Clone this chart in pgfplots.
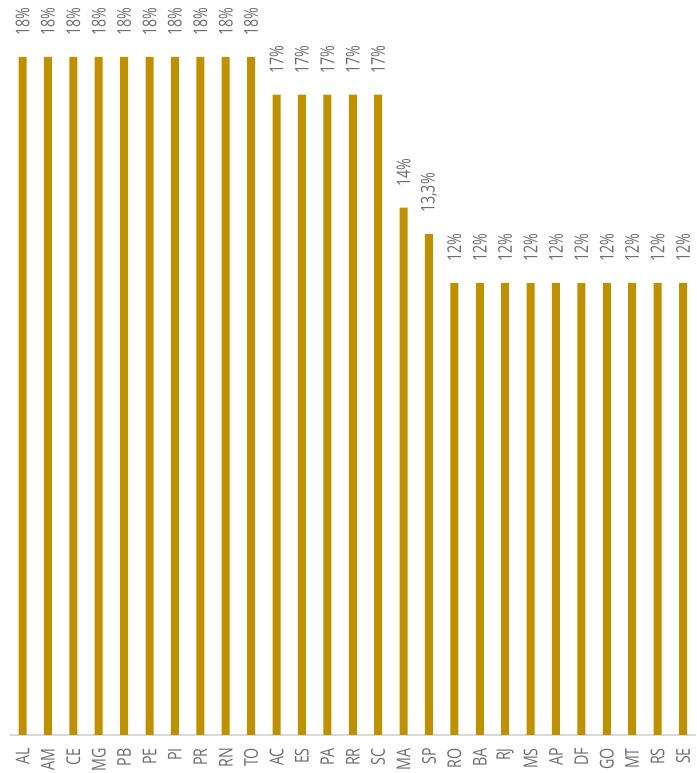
\documentclass[border=0pt]{standalone}
\usepackage{fontspec}
\setmainfont{Open Sans}
\usepackage{pgfplots}
\usepackage{pgfplotstable}
\pgfplotsset{compat=1.18}
\definecolor{barcol}{RGB}{191,144,0}
\definecolor{txtcol}{RGB}{108,108,108}
\newcommand{\sq}[1]{\scalebox{0.75}[1]{#1}}
\pgfplotstableread{
x y lab
0 18 18
1 18 18
2 18 18
3 18 18
4 18 18
5 18 18
6 18 18
7 18 18
8 18 18
9 18 18
10 17 17
11 17 17
12 17 17
13 17 17
14 17 17
15 14 14
16 13.3 13,3
17 12 12
18 12 12
19 12 12
20 12 12
21 12 12
22 12 12
23 12 12
24 12 12
25 12 12
26 12 12
}\datatab
\begin{document}
\begin{tikzpicture}
\useasboundingbox (0,-38pt) rectangle (696pt,735pt);
\begin{axis}[
  at={(0,0)}, anchor=south west,
  scale only axis,
  width=696pt, height=678pt,
  xmin=-0.886, xmax=26.512,
  ymin=0, ymax=18,
  axis line style={draw=none},
  major tick length=0pt,
  ytick=\empty,
  xtick=data,
  xticklabels={\sq{AL},\sq{AM},\sq{CE},\sq{MG},\sq{PB},\sq{PE},\sq{PI},\sq{PR},\sq{RN},\sq{TO},\sq{AC},\sq{ES},\sq{PA},\sq{RR},\sq{SC},\sq{MA},\sq{SP},\sq{RO},\sq{BA},\sq{RJ},\sq{MS},\sq{AP},\sq{DF},\sq{GO},\sq{MT},\sq{RS},\sq{SE}},
  xticklabel style={rotate=90, anchor=east, inner sep=0pt, font=\fontsize{19pt}{19pt}\selectfont, text=txtcol},
  xticklabel shift=13pt,
  clip=false,
  ybar, bar width=8pt,
  point meta=explicit symbolic,
  nodes near coords={\sq{\pgfplotspointmeta\%}},
  every node near coord/.append style={rotate=90, anchor=west, inner sep=0pt, xshift=21pt, font=\fontsize{19pt}{19pt}\selectfont, text=txtcol},
]
\draw[black!15, line width=1.5pt] (axis cs:-0.49,0) -- (axis cs:26.512,0);
\addplot[fill=barcol, draw=none] table[x=x, y=y, meta=lab] {\datatab};
\end{axis}
\end{tikzpicture}
\end{document}
